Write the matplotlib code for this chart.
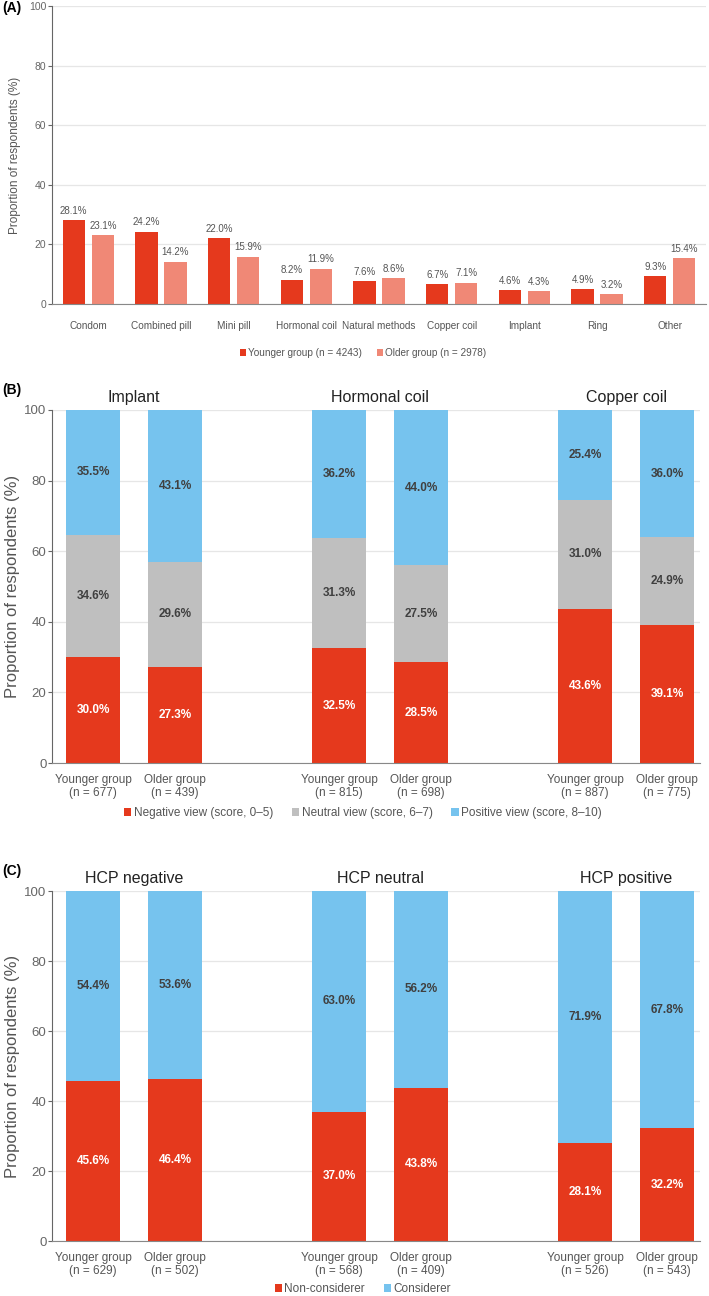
import matplotlib.pyplot as plt
import numpy as np

plt.rcParams["font.family"] = ["Liberation Sans", "DejaVu Sans"]

RED = "#E5391D"
SALMON = "#F08876"
GREY = "#BFBFBF"
BLUE = "#76C3EE"
TXT = "#555555"

# panel A
methods = ["Condom", "Combined pill", "Mini pill", "Hormonal coil", "Natural methods",
           "Copper coil", "Implant", "Ring", "Other"]
younger_a = [28.1, 24.2, 22.0, 8.2, 7.6, 6.7, 4.6, 4.9, 9.3]
older_a = [23.1, 14.2, 15.9, 11.9, 8.6, 7.1, 4.3, 3.2, 15.4]
legend_a = ["Younger group (n = 4243)", "Older group (n = 2978)"]

# panel B
titles_b = ["Implant", "Hormonal coil", "Copper coil"]
n_b = [677, 439, 815, 698, 887, 775]
neg_b = [30.0, 27.3, 32.5, 28.5, 43.6, 39.1]
neu_b = [34.6, 29.6, 31.3, 27.5, 31.0, 24.9]
pos_b = [35.5, 43.1, 36.2, 44.0, 25.4, 36.0]
legend_b = ["Negative view (score, 0\u20135)", "Neutral view (score, 6\u20137)",
            "Positive view (score, 8\u201310)"]

# panel C
titles_c = ["HCP negative", "HCP neutral", "HCP positive"]
n_c = [629, 502, 568, 409, 526, 543]
non_c = [45.6, 46.4, 37.0, 43.8, 28.1, 32.2]
con_c = [54.4, 53.6, 63.0, 56.2, 71.9, 67.8]
legend_c = ["Non-considerer", "Considerer"]

groups = ["Younger group", "Older group"] * 3

fig = plt.figure(figsize=(7.09, 12.96), dpi=100)
W, H = 709, 1296


def add_ax(l, t, r, b):
    return fig.add_axes([l / W, 1 - b / H, (r - l) / W, (b - t) / H])


def style(ax, labsize):
    ax.set_ylim(0, 100)
    ax.set_yticks([0, 20, 40, 60, 80, 100])
    ax.yaxis.grid(True, color="#E6E6E6", lw=0.9)
    ax.set_axisbelow(True)
    for s in ["top", "right"]:
        ax.spines[s].set_visible(False)
    ax.spines["left"].set_color("#666666")
    ax.spines["bottom"].set_color("#888888")
    ax.tick_params(axis="y", colors="#666666", labelsize=labsize, length=3, pad=1)
    ax.tick_params(axis="x", colors=TXT, length=0)


def legend(handles, labels, y, size):
    fig.legend(handles, labels, loc="center", bbox_to_anchor=(363 / W, 1 - y / H),
               ncol=len(labels), frameon=False, fontsize=size, handlelength=0.6,
               handleheight=0.6, handletextpad=0.2, columnspacing=1.6, labelcolor=TXT)


# ---- A ----
ax = add_ax(52, 6, 706, 304)
x = np.arange(len(methods))
b1 = ax.bar(x - 0.2, younger_a, 0.31, color=RED)
b2 = ax.bar(x + 0.2, older_a, 0.31, color=SALMON)
for bars, vals in [(b1, younger_a), (b2, older_a)]:
    for r, v in zip(bars, vals):
        ax.text(r.get_x() + r.get_width() / 2, v + 1.5, f"{v:.1f}%", ha="center",
                va="bottom", fontsize=7, color=TXT)
ax.set_xlim(-0.5, len(methods) - 0.5)
ax.set_xticks(x)
ax.set_xticklabels(methods)
style(ax, 7.5)
ax.tick_params(axis="x", labelsize=7.2, pad=12)
ax.set_ylabel("Proportion of respondents (%)", fontsize=8.5, color=TXT, labelpad=6)
legend([b1, b2], legend_a, 353, 7.2)
fig.text(2 / W, 1 - 8 / H, "(A)", fontsize=10, fontweight="bold", va="center")

# ---- B and C ----
pos = np.array([0, 1, 3, 4, 6, 7])


def stacked(top, bot, series, colors, txtcols, titles, ns, label, leg_labels, leg_y):
    ax = add_ax(52, top, 700, bot)
    bottom = np.zeros(len(pos))
    handles = []
    for vals, c, tc in zip(series, colors, txtcols):
        vals = np.array(vals)
        h = ax.bar(pos, vals, 0.66, bottom=bottom, color=c)
        handles.append(h)
        for p, v, b0 in zip(pos, vals, bottom):
            ax.text(p, b0 + v / 2, f"{v:.1f}%", ha="center", va="center",
                    fontsize=8.5, fontweight="bold", color=tc)
        bottom = bottom + vals
    ax.set_xlim(-0.5, 7.4)
    ax.set_xticks(pos)
    ax.set_xticklabels([f"{g}\n(n = {n})" for g, n in zip(groups, ns)], linespacing=1.05)
    style(ax, 9.5)
    ax.tick_params(axis="x", labelsize=8.5, pad=8)
    ax.set_ylabel("Proportion of respondents (%)", fontsize=12, color=TXT, labelpad=3)
    for i, t in enumerate(titles):
        ax.text(pos[2 * i] + 0.5, 101.5, t, ha="center", va="bottom", fontsize=11.5,
                color="#222222")
    fig.text(2 / W, 1 - (top - 20) / H, label, fontsize=10, fontweight="bold",
             va="center")
    legend(handles, leg_labels, leg_y, 8.5)


stacked(410, 763, [neg_b, neu_b, pos_b], [RED, GREY, BLUE],
        ["white", "#404040", "#404040"], titles_b, n_b, "(B)", legend_b, 813)
stacked(891, 1241, [non_c, con_c], [RED, BLUE], ["white", "#404040"],
        titles_c, n_c, "(C)", legend_c, 1289)

fig.savefig("out.png", dpi=100)
